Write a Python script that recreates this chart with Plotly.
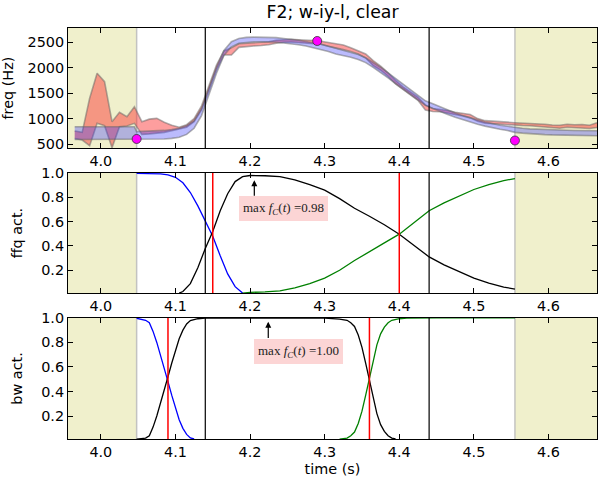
import plotly.graph_objects as go

# ---------------- data ----------------
title_text = "F2; w-iy-l, clear"
x_ticks = [4.0, 4.1, 4.2, 4.3, 4.4, 4.5, 4.6]
freq_ticks = [500, 1000, 1500, 2000, 2500]
act_ticks = [0.2, 0.4, 0.6, 0.8, 1.0]

# measured formant track band (red)
track_t = [3.965, 3.975, 3.985, 3.995, 4.005, 4.015, 4.025, 4.035, 4.045, 4.055,
           4.065, 4.075, 4.085, 4.095, 4.105, 4.115, 4.125, 4.135, 4.145, 4.155,
           4.165, 4.175, 4.185, 4.195, 4.205, 4.215, 4.225, 4.235, 4.245, 4.255,
           4.265, 4.275, 4.285, 4.295, 4.305, 4.315, 4.325, 4.335, 4.345, 4.355,
           4.365, 4.375, 4.385, 4.395, 4.405, 4.415, 4.425, 4.435, 4.445, 4.455,
           4.465, 4.475, 4.485, 4.495, 4.505, 4.515, 4.525, 4.535, 4.545, 4.555,
           4.565, 4.575, 4.585, 4.595, 4.605, 4.615, 4.625, 4.635, 4.645, 4.655, 4.665]
track_hi = [756, 730, 1400, 1890, 1726, 939, 1123, 1038, 1234, 939,
            990, 1005, 930, 870, 830, 880, 1000, 1250, 1650, 2050,
            2330, 2390, 2470, 2480, 2485, 2495, 2510, 2540, 2550, 2560,
            2550, 2545, 2535, 2520, 2495, 2470, 2445, 2390, 2330, 2270,
            2140, 2030, 1900, 1750, 1625, 1520, 1420, 1270, 1200, 1180,
            1160, 1125, 1095, 1080, 1000, 960, 950, 945, 930, 920,
            915, 905, 900, 890, 875, 870, 890, 880, 885, 870, 920]
track_lo = [611, 579, 467, 907, 860, 430, 841, 854, 907, 690,
            700, 710, 730, 760, 790, 830, 940, 1170, 1560, 1960,
            2250, 2250, 2400, 2420, 2425, 2435, 2450, 2480, 2500, 2505,
            2495, 2485, 2475, 2460, 2420, 2380, 2355, 2320, 2270, 2190,
            2040, 1950, 1830, 1680, 1570, 1460, 1360, 1170, 1140, 1135,
            1110, 1080, 1050, 1015, 950, 910, 900, 895, 880, 865,
            865, 860, 850, 840, 830, 810, 830, 825, 815, 805, 825]

# model fit band (blue)
fit_t = [3.965, 4.045, 4.048, 4.055, 4.065, 4.075, 4.085, 4.095, 4.105, 4.115,
         4.125, 4.135, 4.145, 4.155, 4.165, 4.175, 4.185, 4.195, 4.205, 4.215,
         4.225, 4.235, 4.245, 4.255, 4.265, 4.275, 4.285, 4.295, 4.305, 4.315,
         4.325, 4.335, 4.345, 4.355, 4.365, 4.375, 4.385, 4.395, 4.405, 4.415,
         4.425, 4.435, 4.445, 4.455, 4.465, 4.475, 4.485, 4.495, 4.505, 4.515,
         4.525, 4.535, 4.545, 4.555, 4.565, 4.575, 4.585, 4.595, 4.605, 4.615,
         4.625, 4.635, 4.645, 4.655, 4.665]
fit_hi = [840, 840, 745, 748, 752, 758, 768, 785, 810, 860,
          960, 1200, 1600, 2010, 2340, 2510, 2575, 2595, 2600, 2600,
          2597, 2590, 2575, 2560, 2540, 2515, 2490, 2460, 2420, 2380,
          2345, 2305, 2260, 2195, 2105, 2010, 1900, 1790, 1680, 1570,
          1460, 1350, 1290, 1225, 1165, 1110, 1060, 1010, 975, 935,
          900, 872, 850, 825, 810, 798, 790, 783, 778, 773,
          770, 767, 765, 763, 762]
fit_lo = [590, 590, 590, 590, 592, 595, 600, 612, 635, 690,
          810, 1060, 1470, 1890, 2240, 2410, 2480, 2500, 2510, 2510,
          2507, 2500, 2485, 2470, 2450, 2425, 2395, 2365, 2320, 2270,
          2240, 2205, 2160, 2100, 2005, 1910, 1800, 1690, 1580, 1470,
          1370, 1260, 1200, 1135, 1080, 1025, 975, 925, 890, 852,
          818, 790, 765, 730, 715, 702, 693, 686, 680, 675,
          672, 669, 667, 665, 663]

# targets (magenta)
target_t = [4.048, 4.29, 4.555]
target_hz = [600, 2525, 570]

# frequency activations
ffq_blue_t = [4.048, 4.06, 4.07, 4.08, 4.09, 4.10, 4.11, 4.12, 4.13, 4.14, 4.15, 4.16, 4.17, 4.18, 4.19]
ffq_blue_v = [0.997, 0.997, 0.996, 0.993, 0.985, 0.965, 0.92, 0.84, 0.73, 0.60, 0.48, 0.32, 0.17, 0.065, 0.012]
ffq_black_t = [4.105, 4.11, 4.12, 4.13, 4.14, 4.15, 4.16, 4.17, 4.18, 4.19, 4.20, 4.21, 4.22, 4.24,
               4.26, 4.28, 4.30, 4.32, 4.34, 4.36, 4.38, 4.40, 4.42, 4.44, 4.46, 4.48, 4.50,
               4.52, 4.54, 4.555]
ffq_black_v = [0.012, 0.025, 0.09, 0.22, 0.38, 0.52, 0.69, 0.83, 0.93, 0.97, 0.98, 0.98, 0.978, 0.97,
               0.945, 0.905, 0.86, 0.79, 0.71, 0.645, 0.575, 0.497, 0.405, 0.31, 0.245, 0.19, 0.135,
               0.095, 0.062, 0.045]
ffq_green_t = [4.19, 4.20, 4.22, 4.24, 4.26, 4.28, 4.30, 4.32, 4.34, 4.36, 4.38, 4.40, 4.42, 4.44,
               4.46, 4.48, 4.50, 4.52, 4.54, 4.555]
ffq_green_v = [0.012, 0.018, 0.022, 0.03, 0.055, 0.09, 0.135, 0.20, 0.28, 0.355, 0.425, 0.497, 0.59,
               0.69, 0.755, 0.81, 0.865, 0.905, 0.938, 0.955]

# bandwidth activations
bw_blue_t = [4.048, 4.055, 4.06, 4.065, 4.07, 4.075, 4.08, 4.085, 4.09, 4.095, 4.10, 4.105, 4.11, 4.115, 4.12, 4.125]
bw_blue_v = [0.997, 0.99, 0.98, 0.96, 0.89, 0.80, 0.70, 0.60, 0.48, 0.37, 0.27, 0.17, 0.10, 0.05, 0.022, 0.013]
bw_black_t = [4.048, 4.055, 4.06, 4.065, 4.07, 4.075, 4.08, 4.085, 4.09, 4.095, 4.10, 4.105, 4.11, 4.115,
              4.12, 4.13, 4.14, 4.20, 4.30, 4.32, 4.33, 4.335, 4.34, 4.345, 4.35, 4.355, 4.36, 4.365,
              4.37, 4.375, 4.38, 4.385, 4.39, 4.395]
bw_black_v = [0.012, 0.015, 0.02, 0.04, 0.11, 0.20, 0.30, 0.40, 0.52, 0.63, 0.73, 0.83, 0.90, 0.95,
              0.978, 0.993, 0.998, 1.0, 0.998, 0.99, 0.98, 0.96, 0.93, 0.86, 0.76, 0.63, 0.50, 0.35,
              0.22, 0.13, 0.075, 0.04, 0.02, 0.013]
bw_green_t = [4.32, 4.33, 4.335, 4.34, 4.345, 4.35, 4.355, 4.36, 4.365, 4.37, 4.375, 4.38, 4.385, 4.39,
              4.40, 4.41, 4.45, 4.50, 4.555]
bw_green_v = [0.012, 0.02, 0.04, 0.07, 0.14, 0.24, 0.37, 0.50, 0.65, 0.78, 0.87, 0.925, 0.96, 0.98,
              0.993, 0.998, 1.0, 1.0, 1.0]

# region markers
shade_left = [3.956, 4.048]
shade_right = [4.555, 4.665]
boundary_lines = [4.14, 4.44]
ffq_red_lines = [4.15, 4.40]
bw_red_lines = [4.09, 4.36]

# annotations
ffq_note = dict(tip_t=4.2057, tip_v=0.94, base_v=0.80, box_t=4.2453, box_v=0.706, value="0.98")
bw_note = dict(tip_t=4.2244, tip_v=0.968, base_v=0.824, box_t=4.2644, box_v=0.724, value="1.00")

# ---------------- figure ----------------
FONT = "DejaVu Sans"
fig = go.Figure()

band_edge = dict(color="rgba(100,100,100,0.5)", width=1.6)
fig.add_trace(go.Scatter(x=track_t, y=track_lo, mode="lines", line=band_edge,
                         showlegend=False, hoverinfo="skip", xaxis="x", yaxis="y"))
fig.add_trace(go.Scatter(x=track_t, y=track_hi, mode="lines", line=band_edge, fill="tonexty",
                         fillcolor="rgba(250,40,40,0.45)",
                         showlegend=False, hoverinfo="skip", xaxis="x", yaxis="y"))
fig.add_trace(go.Scatter(x=fit_t, y=fit_lo, mode="lines", line=band_edge,
                         showlegend=False, hoverinfo="skip", xaxis="x", yaxis="y"))
fig.add_trace(go.Scatter(x=fit_t, y=fit_hi, mode="lines", line=band_edge, fill="tonexty",
                         fillcolor="rgba(60,60,250,0.35)",
                         showlegend=False, hoverinfo="skip", xaxis="x", yaxis="y"))
fig.add_trace(go.Scatter(x=target_t, y=target_hz, mode="markers",
                         marker=dict(color="#FF00FF", size=9, line=dict(color="#333333", width=0.8)),
                         showlegend=False, xaxis="x", yaxis="y"))

lw = 1.3
for tt, vv, col in [(ffq_blue_t, ffq_blue_v, "#0000FF"), (ffq_black_t, ffq_black_v, "#000000"),
                    (ffq_green_t, ffq_green_v, "#008000")]:
    fig.add_trace(go.Scatter(x=tt, y=vv, mode="lines", line=dict(color=col, width=lw),
                             showlegend=False, xaxis="x2", yaxis="y2"))
for tt, vv, col in [(bw_blue_t, bw_blue_v, "#0000FF"), (bw_black_t, bw_black_v, "#000000"),
                    (bw_green_t, bw_green_v, "#008000")]:
    fig.add_trace(go.Scatter(x=tt, y=vv, mode="lines", line=dict(color=col, width=lw),
                             showlegend=False, xaxis="x3", yaxis="y3"))

shapes = []
panels = [("x", "y"), ("x2", "y2"), ("x3", "y3")]
for xr, yr in panels:
    for s in (shade_left, shade_right):
        shapes.append(dict(type="rect", xref=xr, yref=yr + " domain", x0=s[0], x1=s[1], y0=0, y1=1,
                           fillcolor="#F0F0CC", line=dict(width=0), layer="below"))
    for xv in (shade_left[1], shade_right[0]):
        shapes.append(dict(type="line", xref=xr, yref=yr + " domain", x0=xv, x1=xv, y0=0, y1=1,
                           line=dict(color="rgba(190,190,190,0.9)", width=1.5), layer="below"))
    for xv in boundary_lines:
        shapes.append(dict(type="line", xref=xr, yref=yr + " domain", x0=xv, x1=xv, y0=0, y1=1,
                           line=dict(color="black", width=1.2), layer="above"))
for xr, yr, lines in [("x2", "y2", ffq_red_lines), ("x3", "y3", bw_red_lines)]:
    for xv in lines:
        shapes.append(dict(type="line", xref=xr, yref=yr + " domain", x0=xv, x1=xv, y0=0, y1=1,
                           line=dict(color="#FF0000", width=1.5), layer="above"))

annotations = []
for xr, yr, note in [("x2", "y2", ffq_note), ("x3", "y3", bw_note)]:
    annotations.append(dict(x=note["tip_t"], y=note["tip_v"], ax=note["tip_t"], ay=note["base_v"],
                            xref=xr, yref=yr, axref=xr, ayref=yr, text="", showarrow=True,
                            arrowhead=2, arrowsize=1, arrowwidth=1.2, arrowcolor="black"))
    annotations.append(dict(x=note["box_t"], y=note["box_v"], xref=xr, yref=yr, showarrow=False,
                            text="max <i>f</i><sub><i>C</i></sub>(<i>t</i>) =" + note["value"],
                            font=dict(family="Liberation Serif", size=13, color="#222222"),
                            bgcolor="rgba(250,185,185,0.6)", borderpad=4, borderwidth=0))

axis_common = dict(showline=True, linecolor="black", linewidth=1, mirror="allticks", ticks="inside",
                   ticklen=5, tickwidth=1, tickcolor="black", showgrid=False, zeroline=False,
                   tickfont=dict(family=FONT, size=14.4, color="black"))
x_common = dict(axis_common, range=[3.956, 4.665], tickvals=x_ticks, tickformat=".1f")
act_common = dict(axis_common, tickvals=act_ticks, tickformat=".1f")
title_font = dict(family=FONT, size=14.4, color="black")

fig.update_layout(
    width=600, height=477,
    margin=dict(l=67, r=2, t=28, b=35),
    paper_bgcolor="white", plot_bgcolor="white",
    title=dict(text=title_text, x=0.5, xref="paper", y=1 - 12 / 477, yref="container",
               yanchor="middle", xanchor="center", font=dict(family=FONT, size=17.3, color="black")),
    xaxis=dict(x_common, domain=[0, 1], anchor="y"),
    yaxis=dict(axis_common, domain=[0.7077, 1.0], anchor="x", range=[420, 2780], tickvals=freq_ticks,
               title=dict(text="freq (Hz)", font=title_font)),
    xaxis2=dict(x_common, domain=[0, 1], anchor="y2"),
    yaxis2=dict(act_common, domain=[0.355, 0.647], anchor="x2", range=[0.012, 1.0],
                title=dict(text="ffq act.", font=title_font)),
    xaxis3=dict(x_common, domain=[0, 1], anchor="y3",
                title=dict(text="time (s)", font=title_font, standoff=5)),
    yaxis3=dict(act_common, domain=[0.0, 0.2947], anchor="x3", range=[0.013, 1.0],
                title=dict(text="bw act.", font=title_font)),
    shapes=shapes, annotations=annotations,
)

fig.write_html("out.html")
